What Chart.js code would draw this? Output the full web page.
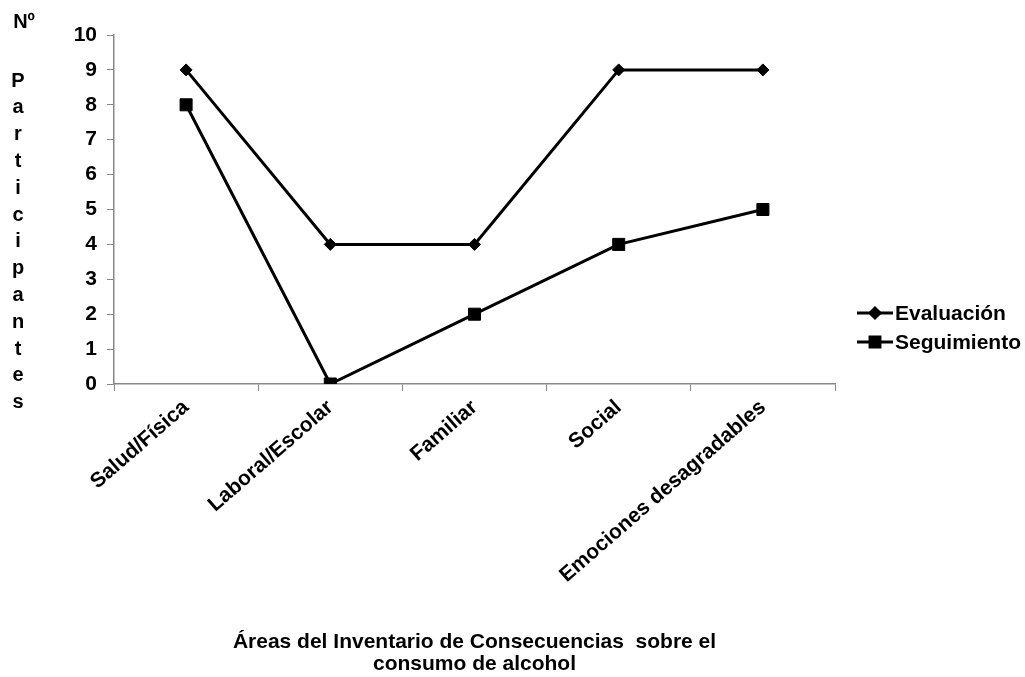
<!DOCTYPE html>
<html>
<head>
<meta charset="utf-8">
<script src="https://cdn.jsdelivr.net/npm/chart.js@4.4.0/dist/chart.umd.min.js"></script>
<style>
  html, body { margin: 0; padding: 0; background: #fff; }
</style>
</head>
<body>
<canvas id="myChart" width="1025" height="677"></canvas>
<script>
const areas = ['Salud/Física', 'Laboral/Escolar', 'Familiar', 'Social', 'Emociones desagradables'];
const evaluacion = [9, 4, 4, 9, 9];
const seguimiento = [8, 0, 2, 4, 5];
const tituloY = ['Nº', 'P', 'a', 'r', 't', 'i', 'c', 'i', 'p', 'a', 'n', 't', 'e', 's'];
const tituloX = ['Áreas del Inventario de Consecuencias  sobre el', 'consumo de alcohol'];

const fuente = 'Arial, "Liberation Sans", sans-serif';

// titulo vertical letra por letra y leyenda a la derecha
const extras = {
  id: 'extras',
  afterDraw(chart) {
    const ctx = chart.ctx;
    ctx.save();
    ctx.fillStyle = '#000';
    ctx.font = 'bold 20px ' + fuente;
    ctx.textAlign = 'center';
    ctx.textBaseline = 'middle';
    ctx.fillText(tituloY[0], 24, 22);
    for (let i = 1; i < tituloY.length; i++) {
      ctx.fillText(tituloY[i], 18, 81 + (i - 1) * 26.8);
    }
    // leyenda
    ctx.font = 'bold 21px ' + fuente;
    ctx.textAlign = 'left';
    chart.data.datasets.forEach((ds, i) => {
      const y = 313 + i * 29;
      ctx.strokeStyle = '#000';
      ctx.lineWidth = 3;
      ctx.beginPath();
      ctx.moveTo(857, y);
      ctx.lineTo(893, y);
      ctx.stroke();
      Chart.helpers.drawPoint(ctx, {
        pointStyle: ds.pointStyle,
        radius: i === 0 ? 5 : 7,
        borderWidth: 1
      }, 875, y);
      ctx.fill();
      ctx.fillText(ds.label, 895, y + 1);
    });
    ctx.restore();
  }
};

const ctx = document.getElementById('myChart').getContext('2d');
const myChart = new Chart(ctx, {
  type: 'line',
  data: {
    labels: areas,
    datasets: [{
      label: 'Evaluación',
      data: evaluacion,
      borderColor: '#000',
      backgroundColor: '#000',
      borderWidth: 3,
      pointStyle: 'rectRot',
      pointRadius: 6,
      pointBorderWidth: 1,
      tension: 0
    }, {
      label: 'Seguimiento',
      data: seguimiento,
      borderColor: '#000',
      backgroundColor: '#000',
      borderWidth: 3,
      pointStyle: 'rect',
      pointRadius: 8.5,
      pointBorderWidth: 1,
      tension: 0
    }]
  },
  options: {
    responsive: false,
    animation: false,
    devicePixelRatio: 1,
    layout: {
      padding: { left: 40, right: 190, top: 35, bottom: 2 }
    },
    plugins: {
      legend: { display: false },
      tooltip: { enabled: false }
    },
    scales: {
      x: {
        offset: true,
        grid: {
          offset: true,
          drawOnChartArea: false,
          drawTicks: true,
          tickLength: 7,
          color: '#888'
        },
        border: { color: '#888', width: 1.5 },
        ticks: {
          color: '#000',
          font: { family: fuente, size: 21, weight: 'bold' },
          maxRotation: 41,
          minRotation: 41,
          padding: 4
        },
        title: {
          display: true,
          text: tituloX,
          color: '#000',
          font: { family: fuente, size: 21, weight: 'bold', lineHeight: 1.05 },
          padding: { top: 0, bottom: 0 }
        },
        afterFit(scale) { scale.height = 291; }
      },
      y: {
        min: 0,
        max: 10,
        ticks: {
          stepSize: 1,
          color: '#000',
          font: { family: fuente, size: 21, weight: 'bold' },
          padding: 10
        },
        grid: {
          drawOnChartArea: false,
          drawTicks: true,
          tickLength: 7,
          color: '#888'
        },
        border: { color: '#888', width: 1.5 },
        afterFit(scale) { scale.width = 74; }
      }
    }
  },
  plugins: [extras]
});
</script>
</body>
</html>
